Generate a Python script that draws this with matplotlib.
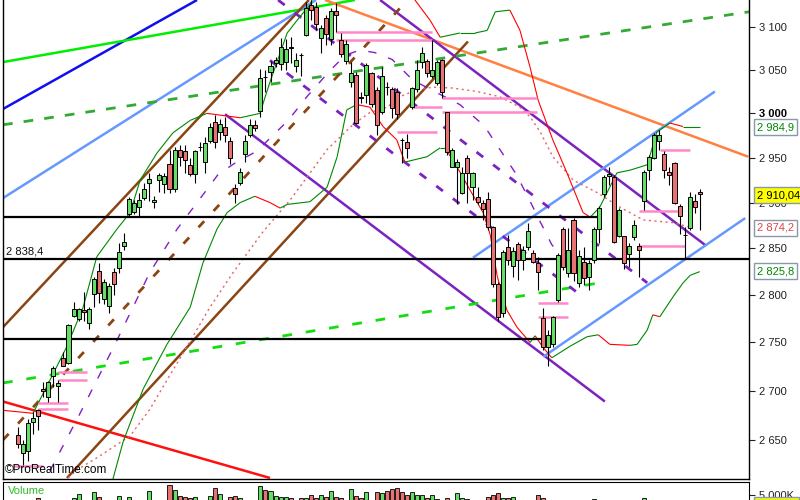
import matplotlib
matplotlib.use("Agg")
import matplotlib.pyplot as plt
from matplotlib.collections import LineCollection
from matplotlib.ticker import NullLocator
from matplotlib.patches import Rectangle

plt.rcParams['font.family'] = ['Liberation Sans', 'DejaVu Sans']
plt.rcParams['lines.scale_dashes'] = False

# ---- candles (one per session) ----
opens = [2655, 2637, 2639, 2668, 2680, 2702, 2694, 2715, 2705, 2734, 2729, 2778, 2775, 2784, 2770, 2801, 2826, 2796, 2788, 2825,
         2829, 2853, 2888, 2890, 2895, 2905, 2922, 2901, 2925, 2921, 2943, 2915, 2958, 2957, 2942, 2932, 2962, 2945, 2969, 2990,
         2979, 2985, 2969, 2916, 2922, 2954, 2975, 2987, 3003, 3042, 3048, 3058, 3057, 3059, 3076, 3055, 3067, 3091, 3126, 3124,
         3087, 3111, 3086, 3119, 3085, 3060, 3036, 3044, 3019, 3021, 3046, 3027, 3001, 3030, 3028, 3024, 2970, 2967, 3007, 3028,
         3059, 3060, 3043, 3035, 3061, 3001, 2940, 2939, 2911, 2950, 2917, 2906, 2900, 2904, 2873, 2812, 2781, 2852, 2831, 2855,
         2838, 2852, 2845, 2834, 2776, 2745, 2748, 2795, 2871, 2823, 2881, 2813, 2835, 2819, 2838, 2871, 2909, 2930, 2928, 2864,
         2863, 2844, 2862, 2853, 2902, 2936, 2950, 2969, 2954, 2934, 2944, 2896, 2865, 2872, 2902, 2912]
highs = [2663, 2650, 2671, 2678, 2681, 2709, 2710, 2725, 2711, 2740, 2769, 2793, 2786, 2803, 2787, 2819, 2834, 2817, 2813, 2829,
         2856, 2867, 2906, 2903, 2911, 2922, 2933, 2907, 2933, 2933, 2959, 2962, 2964, 2964, 2950, 2958, 2968, 2973, 2989, 2998,
         2994, 2996, 2973, 2921, 2938, 2976, 2994, 2992, 3051, 3050, 3060, 3065, 3087, 3086, 3088, 3069, 3070, 3130, 3132, 3130,
         3102, 3114, 3123, 3128, 3093, 3085, 3059, 3048, 3025, 3058, 3048, 3030, 3053, 3036, 3030, 3029, 2972, 2977, 3030, 3061,
         3076, 3063, 3085, 3061, 3063, 3002, 2961, 2948, 2940, 2953, 2934, 2917, 2903, 2912, 2874, 2814, 2848, 2865, 2852, 2857,
         2853, 2878, 2848, 2841, 2786, 2763, 2778, 2845, 2873, 2872, 2883, 2848, 2852, 2838, 2873, 2896, 2931, 2940, 2931, 2894,
         2863, 2856, 2881, 2856, 2936, 2953, 2978, 2981, 2957, 2939, 2945, 2898, 2873, 2912, 2909, 2915]
lows = [2642, 2625, 2629, 2656, 2660, 2694, 2689, 2704, 2688, 2725, 2728, 2777, 2772, 2772, 2764, 2787, 2792, 2790, 2781, 2800,
        2824, 2848, 2884, 2887, 2884, 2903, 2902, 2894, 2912, 2911, 2911, 2912, 2941, 2933, 2929, 2922, 2957, 2933, 2966, 2961,
        2970, 2968, 2943, 2900, 2920, 2945, 2973, 2980, 2996, 3025, 3036, 3053, 3050, 3050, 3058, 3048, 3043, 3089, 3108, 3097,
        3069, 3079, 3079, 3094, 3065, 3057, 3030, 2988, 3012, 3012, 3007, 2976, 2999, 3021, 2995, 2994, 2944, 2950, 3005, 3025,
        3052, 3042, 3041, 3033, 3017, 2953, 2939, 2899, 2910, 2900, 2903, 2898, 2881, 2870, 2809, 2772, 2777, 2832, 2819, 2816,
        2827, 2848, 2834, 2805, 2742, 2725, 2745, 2793, 2827, 2819, 2815, 2809, 2811, 2805, 2834, 2856, 2906, 2920, 2856, 2862,
        2828, 2830, 2859, 2819, 2892, 2925, 2948, 2959, 2927, 2920, 2898, 2866, 2840, 2870, 2889, 2870]
closes = [2646, 2646, 2667, 2672, 2674, 2700, 2709, 2723, 2708, 2726, 2768, 2785, 2785, 2782, 2785, 2817, 2802, 2814, 2810, 2812,
          2846, 2857, 2904, 2900, 2903, 2915, 2926, 2903, 2931, 2930, 2915, 2958, 2951, 2947, 2932, 2957, 2962, 2966, 2985, 2967,
          2988, 2976, 2950, 2910, 2934, 2969, 2987, 2983, 3040, 3042, 3055, 3061, 3076, 3074, 3075, 3062, 3067, 3123, 3120, 3104,
          3099, 3092, 3119, 3114, 3068, 3080, 3046, 2989, 3017, 3056, 3011, 2987, 3043, 3030, 3006, 2999, 2970, 2961, 3029, 3050,
          3069, 3046, 3050, 3059, 3024, 2956, 2958, 2945, 2933, 2933, 2933, 2901, 2893, 2873, 2812, 2777, 2846, 2838, 2847, 2838,
          2848, 2869, 2835, 2825, 2745, 2758, 2777, 2843, 2830, 2848, 2823, 2842, 2818, 2834, 2871, 2894, 2928, 2932, 2857, 2892,
          2834, 2853, 2875, 2848, 2934, 2951, 2976, 2976, 2936, 2931, 2900, 2885, 2865, 2906, 2895, 2910]
# volume in thousands (bars below ~4620 fall outside the visible strip)
volumes = [4500, 4500, 4500, 4500, 4770, 4500, 4500, 4500, 4500, 4500, 4500, 4770, 5080, 4500, 4500, 5230, 4850, 4500, 4500, 4500,
           4920, 4500, 4850, 4500, 4500, 4500, 5310, 4500, 4500, 4500, 5770, 5380, 4920, 4850, 4770, 4850, 4500, 4500, 4920, 5540,
           5080, 4500, 4850, 4920, 4770, 4500, 4500, 4500, 5690, 5380, 5310, 4920, 4850, 4850, 4770, 4500, 4770, 4770, 5000, 4770,
           5000, 4850, 5310, 4850, 4770, 4500, 5460, 4920, 4770, 5230, 4500, 5230, 5150, 5310, 5460, 5540, 5230, 5000, 5230, 5000,
           5000, 4770, 5000, 4690, 4500, 4770, 4500, 5150, 4770, 4690, 4500, 4500, 4500, 4850, 5000, 5150, 4770, 4770, 4850, 4500,
           4500, 4500, 4500, 5000, 4770, 4500, 4500, 4500, 4500, 4500, 4500, 4500, 4500, 4500, 4690, 4500, 4500, 4500, 4500, 4500,
           4500, 4500, 4500, 4500, 4770, 4500, 4500, 4500, 4500, 4500, 4500, 4500, 4500, 4500, 4500, 4500]

# ---- bands ----
upper_band_x = [-2.97, 2.97, 6.34, 9.7, 12.9, 15.6, 19.6, 22.2, 24.2, 27.5, 30.7, 34.1, 37.4, 44.0, 47.9, 49.9, 53.3, 55.8,
                57.8, 59.8, 77.6, 78.6, 81.6, 83.6, 87.5, 90.5, 92.9, 94.5, 97.4, 99.4, 101.4, 103.0, 105.9, 108.7, 111.9,
                113.3, 115.2, 118.6, 121.2, 124.6, 126.5, 129.1, 131.7, 135.0]
upper_band_y = [2680, 2677, 2711, 2746, 2787, 2841, 2871, 2889, 2925, 2955, 2978, 2992, 3000, 2995, 3000, 3036, 3093, 3112,
                3126, 3156, 3144, 3132, 3108, 3088, 3093, 3093, 3096, 3118, 3120, 3096, 3053, 3015, 2970, 2933, 2889,
                2884, 2895, 2933, 2936, 2942, 2979, 2989, 2985, 2985]
lower_band_x = [18.2, 20.8, 24.8, 29.5, 34.1, 36.6, 39.4, 41.4, 44.0, 46.9, 49.9, 51.9, 53.3, 57.8, 61.2, 63.2, 65.1, 67.1,
                69.7, 72.3, 75.0, 76.6, 81.0, 83.6, 84.6, 87.5, 89.5, 92.1, 93.5, 94.9, 96.8, 98.8, 101.4, 102.4, 103.8,
                105.7, 109.3, 112.7, 114.9, 117.2, 121.2, 122.6, 124.6, 125.7, 127.1, 129.7, 131.7, 133.1, 135.0]
lower_band_y = [2600, 2648, 2702, 2748, 2787, 2834, 2871, 2889, 2900, 2907, 2900, 2894, 2898, 2901, 2917, 2951, 3004, 3010,
                3007, 2985, 2970, 2945, 2951, 2961, 2961, 2934, 2914, 2889, 2865, 2820, 2784, 2766, 2750, 2757, 2746,
                2734, 2746, 2756, 2758, 2748, 2747, 2748, 2763, 2779, 2777, 2798, 2813, 2821, 2825]
mid_x = [8.3, 11.7, 16.2, 22.2, 26.1, 29.5, 33.5, 38.0, 42.6, 48.5, 53.9, 57.2, 61.2, 66.3, 69.7, 73.1, 75.6, 79.0, 82.2,
         86.1, 90.9, 95.4, 99.4, 101.4, 103.4, 105.9, 109.9, 114.7, 119.2, 123.8, 129.7, 133.1]
mid_y = [2605, 2620, 2634, 2654, 2681, 2711, 2746, 2787, 2824, 2868, 2903, 2928, 2959, 2987, 3001, 3007, 3019, 3027, 3030,
         3029, 3025, 3019, 3007, 2996, 2979, 2951, 2925, 2911, 2895, 2881, 2878, 2873]
curve_x = [6.3, 11.9, 19.2, 26.1, 31.5, 36.0, 39.6, 43.0, 46.9, 48.5, 53.5, 57.2, 61.6, 64.8, 67.7, 70.7, 74.1, 78.2, 87.5,
           92.3, 95.2, 98.6, 101.0, 103.4, 105.7, 108.3, 110.9]
curve_y = [2619, 2673, 2748, 2824, 2871, 2904, 2931, 2944, 2956, 2964, 2992, 3019, 3048, 3067, 3073, 3070, 3062, 3038, 3010,
           2986, 2961, 2932, 2906, 2879, 2854, 2838, 2827]

# ---- trend lines: (x0, x1), (y0, y1) ----
trend_lines = {
    'blue':        ((-2.97, 35.45), (3005, 3132)),
    'lime':        ((-2.97, 66.7), (3059, 3132)),
    'skyblue':     ((-2.97, 59.0), (2905, 3132)),
    'orange':      ((60.8, 144.6), (3132, 2951)),
    'red':         ((-2.97, 49.9), (2689, 2612)),
    'brown_hi':    ((-2.97, 57.6), (2766, 3132)),
    'brown_lo':    ((9.7, 89.1), (2612, 3083)),
    'purple_hi':   ((71.7, 136.0), (3132, 2854)),
    'purple_lo':   ((41.0, 116.2), (2999, 2689)),
    'chan_hi':     ((90.1, 138.0), (2840, 3025)),
    'chan_lo':     ((104.0, 144.0), (2735, 2883)),
}
dashed_lines = {
    'green_dash':  ((-2.97, 144.75), (2987, 3118)),
    'lime_dash':   ((-2.97, 115.2), (2708, 2813)),
    'brown_dash':  ((-2.97, 75.6), (2650, 3122)),
    'purple_d1':   ((51.5, 124.6), (3132, 2813)),
    'purple_d2':   ((49.9, 111.9), (3061, 2798)),
}
hline_levels = [2884, 2838.4, 2754]
hline_ends = [114.9, 144.75, 103.8]
pink_y = [3094, 3085, 3017, 3002, 3007, 2979, 2719, 2711, 2687, 2681, 2624, 2791, 2777, 2958, 2891, 2853]
pink_x0 = [63.0, 63.0, 84.0, 84.0, 78.0, 75.0, 7.9, 7.9, 4.0, 4.0, -1.0, 103.0, 103.0, 127.1, 123.0, 123.0]
pink_x1 = [82.0, 82.0, 102.8, 102.8, 84.0, 83.0, 13.7, 13.7, 9.9, 9.9, 5.0, 108.9, 108.9, 133.1, 130.7, 132.1]

y_ticks = [2650, 2700, 2750, 2800, 2850, 2900, 2950, 3000, 3050, 3100]
y_tick_labels = ['2 650', '2 700', '2 750', '2 800', '2 850', '2 900', '2 950', '3 000', '3 050', '3 100']

GREEN = '#66dd66'
RED = '#e87272'
W, H = 800, 500

fig = plt.figure(figsize=(8, 5), dpi=100)
ax = fig.add_axes([3 / W, 21 / H, 746 / W, 479 / H])
ax.set_yscale('log')
ax.set_xlim(-2.97, 144.75)
ax.set_ylim(2611, 3132)

line_styles = {
    'blue': ('#1010ee', 1.8), 'lime': ('#00ee00', 1.8), 'skyblue': ('#6699ff', 1.8),
    'orange': ('#ff8040', 1.8), 'red': ('#ff1010', 1.8), 'brown_hi': ('#8b4513', 1.8),
    'brown_lo': ('#8b4513', 1.8), 'purple_hi': ('#7b22c0', 1.8), 'purple_lo': ('#7b22c0', 1.8),
    'chan_hi': ('#6699ff', 1.8), 'chan_lo': ('#6699ff', 1.8),
}
for key, (xs, ys) in trend_lines.items():
    c, lw = line_styles[key]
    ax.plot(xs, ys, color=c, lw=lw, solid_capstyle='butt', zorder=2)

dash_styles = {
    'green_dash': ('#33aa33', 2.0, (7, 8)), 'lime_dash': ('#11dd11', 2.0, (7, 10)),
    'brown_dash': ('#8b4513', 2.0, (6, 10)), 'purple_d1': ('#7b22c0', 2.0, (6, 9)),
    'purple_d2': ('#7b22c0', 2.0, (6, 9)),
}
for key, (xs, ys) in dashed_lines.items():
    c, lw, d = dash_styles[key]
    ax.plot(xs, ys, color=c, lw=lw, dashes=d, dash_capstyle='butt', zorder=2)

ax.plot(curve_x, curve_y, color='#8020c8', lw=1.0, dashes=(6, 9), zorder=2)
ax.plot(mid_x, mid_y, color='#e06666', lw=1.0, dashes=(1.5, 2.5), zorder=2)

for band_x, band_y in ((upper_band_x, upper_band_y), (lower_band_x, lower_band_y)):
    segs = [[(band_x[k], band_y[k]), (band_x[k + 1], band_y[k + 1])] for k in range(len(band_x) - 1)]
    cols = ['#ff0000' if band_y[k + 1] < band_y[k] else '#008800' for k in range(len(band_x) - 1)]
    ax.add_collection(LineCollection(segs, colors=cols, linewidths=0.8, zorder=2))

for lvl, x1 in zip(hline_levels, hline_ends):
    ax.plot([-2.97, x1], [lvl, lvl], color='black', lw=1.6, zorder=2)

ax.hlines(pink_y, pink_x0, pink_x1, colors='#ff88c8', lw=1.8, zorder=2)

# candles
idx = list(range(len(opens)))
ax.vlines(idx, lows, highs, colors='black', lw=0.8, zorder=3)
bottoms = [min(o, c) for o, c in zip(opens, closes)]
heights = [abs(c - o) for o, c in zip(opens, closes)]
cols = [GREEN if c > o else RED for o, c in zip(opens, closes)]
ax.bar(idx, heights, bottom=bottoms, width=0.8, color=cols, edgecolor='black', linewidth=0.7, zorder=4)

ax.yaxis.tick_right()
ax.set_yticks(y_ticks, labels=y_tick_labels)
ax.yaxis.set_minor_locator(NullLocator())
ax.tick_params(axis='y', length=4, width=0.8, pad=3, labelsize=8, colors='#222222')
for lbl in ax.get_yticklabels():
    if lbl.get_text() == '3 000':
        lbl.set_fontweight('bold')
        lbl.set_color('black')
ax.set_xticks([])
ax.spines['top'].set_visible(False)
for s in ('left', 'right', 'bottom'):
    ax.spines[s].set_linewidth(1.0)

ax.text(0.004, 2841.5, '2 838,4', fontsize=8, color='#111111', va='bottom', ha='left',
        transform=ax.get_yaxis_transform())
ax.text(0.003, 0.006, '\u00a9ProRealTime.com', fontsize=8.5, color='black', va='bottom', ha='left',
        transform=ax.transAxes)

# volume panel
vax = fig.add_axes([3 / W, 0, 746 / W, 18 / H])
vax.set_xlim(-2.97, 144.75)
vax.set_ylim(4615, 6000)
vax.bar(idx, volumes, width=0.8, color=cols, edgecolor='black', linewidth=0.6)
vax.set_xticks([])
vax.yaxis.tick_right()
vax.set_yticks([5000], labels=['5 000K'])
vax.tick_params(axis='y', length=4, width=0.8, pad=3, labelsize=8, colors='#222222')
vax.spines['bottom'].set_visible(False)
vax.text(0.006, 0.5, 'Volume', fontsize=8, color='#33bb33', va='center', ha='left', transform=vax.transAxes)

# last-value boxes on the price scale
boxes = [(127, '2 984,9', '#008800', 'white'), (195, '2 910,04', 'black', '#ffff00'),
         (228, '2 874,2', '#dd4444', 'white'), (271, '2 825,8', '#008800', 'white')]
for ypx, txt, tc, bg in boxes:
    fig.text(757 / W, 1 - ypx / H, txt, fontsize=8, color=tc, va='center', ha='left', zorder=5,
             bbox=dict(boxstyle='square,pad=0.25', fc=bg, ec='#8899aa', lw=1))
fig.patches.append(Rectangle((754 / W, 0), 45 / W, 3 / H, transform=fig.transFigure,
                             fc='#ffff00', ec='#8899aa', lw=1, zorder=5))

fig.savefig('out.png', dpi=100)
